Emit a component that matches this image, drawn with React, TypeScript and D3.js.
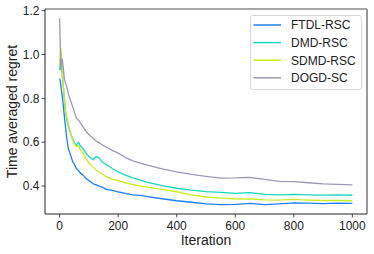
import React from "react";
import * as d3 from "d3";

const iterations = [0,2,4,6,8,10,13,16,20,25,30,35,40,45,50,57,65,70,80,90,100,115,125,135,145,160,180,200,225,250,275,300,350,400,450,500,550,600,650,700,750,800,850,900,950,1000];

const ftdl = [0.89,0.88,0.86,0.84,0.82,0.80,0.76,0.72,0.67,0.61,0.57,0.55,0.53,0.51,0.50,0.48,0.47,0.46,0.45,0.435,0.425,0.41,0.405,0.40,0.395,0.385,0.38,0.373,0.367,0.36,0.357,0.352,0.342,0.333,0.326,0.319,0.315,0.316,0.321,0.315,0.319,0.323,0.322,0.32,0.322,0.321];
const dmd = [0.93,0.96,1.01,0.98,0.92,0.89,0.85,0.80,0.74,0.70,0.67,0.65,0.63,0.615,0.60,0.585,0.60,0.585,0.57,0.55,0.535,0.52,0.535,0.528,0.51,0.497,0.48,0.465,0.45,0.437,0.427,0.417,0.402,0.39,0.381,0.375,0.371,0.367,0.37,0.362,0.36,0.362,0.36,0.359,0.36,0.358];
const sdmd = [0.95,0.99,1.03,0.99,0.93,0.90,0.85,0.80,0.74,0.71,0.68,0.655,0.63,0.61,0.595,0.58,0.585,0.565,0.55,0.525,0.505,0.485,0.472,0.465,0.455,0.443,0.432,0.425,0.415,0.407,0.40,0.395,0.385,0.374,0.36,0.35,0.345,0.342,0.341,0.337,0.336,0.339,0.336,0.334,0.334,0.333];
const dogd = [1.165,1.05,0.93,0.96,0.98,0.97,0.93,0.89,0.87,0.85,0.82,0.80,0.78,0.76,0.74,0.71,0.70,0.69,0.67,0.65,0.635,0.617,0.605,0.597,0.588,0.577,0.563,0.55,0.53,0.515,0.505,0.495,0.478,0.465,0.453,0.444,0.436,0.437,0.44,0.43,0.421,0.42,0.415,0.41,0.408,0.405];

const seriesNames = ["FTDL-RSC", "DMD-RSC", "SDMD-RSC", "DOGD-SC"];
const seriesValues = [ftdl, dmd, sdmd, dogd];
const seriesColors = ["#1f7ff5", "#14d9bd", "#c8ec1e", "#9a9ab4"];

const xTicks = [0, 200, 400, 600, 800, 1000];
const yTicks = [0.4, 0.6, 0.8, 1.0, 1.2];

const W = 374, H = 254;
const L = 45, R = 367, T = 9, B = 214;
const FONT = "'Liberation Sans', Arial, sans-serif";

export default function App() {
  const x = d3.scaleLinear().domain([-50, 1050]).range([L, R]);
  const y = d3.scaleLinear().domain([0.2725, 1.2075]).range([B, T]);
  const line = d3.line<number>().x((_, i) => x(iterations[i])).y(d => y(d));

  return (
    <svg width={W} height={H} style={{ position: "absolute", left: 0, top: 0, fontFamily: FONT }}>
      <rect x={0} y={0} width={W} height={H} fill="#fff" />
      {seriesValues.map((vals, k) => (
        <path key={k} d={line(vals) || ""} fill="none" stroke={seriesColors[k]} strokeWidth={1.3} strokeLinejoin="round" />
      ))}
      {/* spines */}
      <line x1={L} x2={R} y1={T} y2={T} stroke="#888" strokeWidth={1.3} />
      <line x1={R} x2={R} y1={T} y2={B} stroke="#999" strokeWidth={2} />
      <line x1={L} x2={L} y1={T} y2={B} stroke="#222" strokeWidth={1} />
      <line x1={L} x2={R} y1={B} y2={B} stroke="#222" strokeWidth={1} />
      {xTicks.map(t => (
        <g key={"x" + t}>
          <line x1={x(t)} x2={x(t)} y1={B} y2={B + 3.5} stroke="#222" strokeWidth={0.8} />
          <text x={x(t)} y={B + 16} fontSize={12} textAnchor="middle" fill="#222">{t}</text>
        </g>
      ))}
      {yTicks.map(t => (
        <g key={"y" + t}>
          <line x1={L - 3.5} x2={L} y1={y(t)} y2={y(t)} stroke="#222" strokeWidth={0.8} />
          <text x={L - 5.5} y={y(t) + 4.3} fontSize={12} textAnchor="end" fill="#222">{t.toFixed(1)}</text>
        </g>
      ))}
      <text x={(L + R) / 2} y={245} fontSize={14} textAnchor="middle" fill="#222">Iteration</text>
      <text transform={`translate(17,${(T + B) / 2}) rotate(-90)`} fontSize={14} textAnchor="middle" fill="#222">Time averaged regret</text>
      {/* legend */}
      <rect x={250.5} y={15.5} width={111} height={74} rx={2} fill="#fff" stroke="#d6d6d6" strokeWidth={1} />
      {seriesNames.map((n, k) => (
        <g key={n}>
          <line x1={253.5} x2={281} y1={25 + k * 17.6} y2={25 + k * 17.6} stroke={seriesColors[k]} strokeWidth={1.5} />
          <text x={291} y={25 + k * 17.6 + 4.3} fontSize={12} fill="#222">{n}</text>
        </g>
      ))}
    </svg>
  );
}
